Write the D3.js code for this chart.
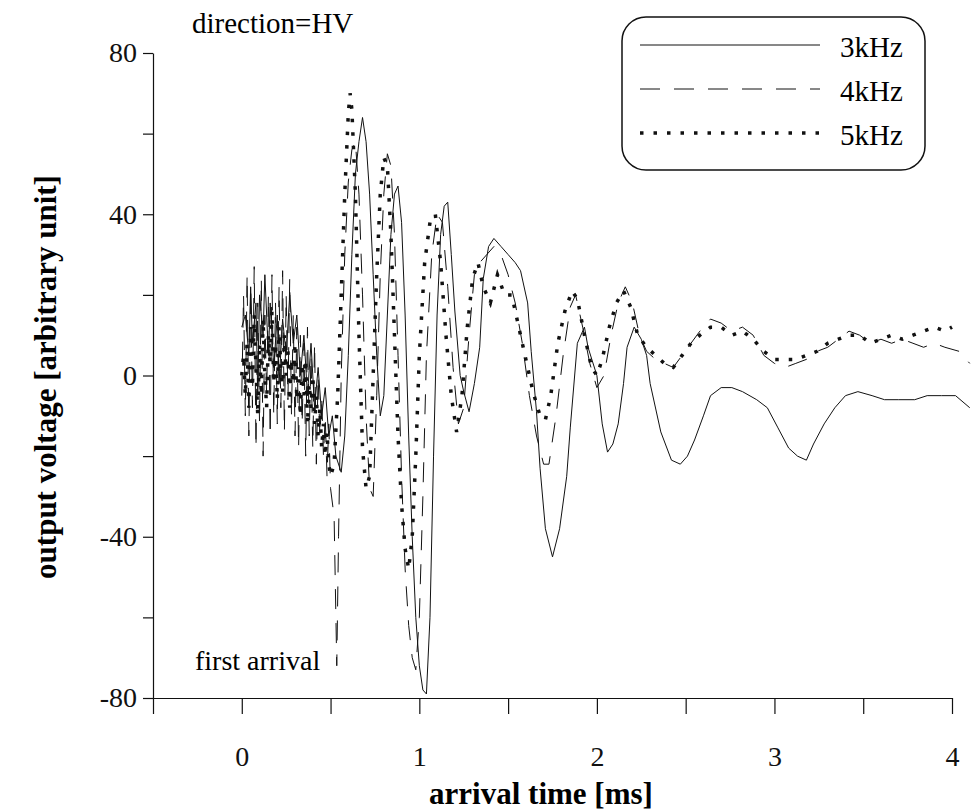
<!DOCTYPE html>
<meta charset="utf-8">
<style>
body { margin: 0; background: #fff; }
.axis path, .axis line { stroke: #111; stroke-width: 1.2; }
</style>
<svg class="chart"></svg>
<script src="https://d3js.org/d3.v7.min.js"></script>
<script>

// series: [arrival time (ms), output voltage]
var names = ["3kHz", "4kHz", "5kHz"];

var s3kHz = [[0.00,12],[0.02,15],[0.04,5],[0.05,22],[0.06,8],[0.08,18],[0.09,-5],[0.10,20],[0.12,10],
  [0.13,25],[0.15,5],[0.16,18],[0.18,2],[0.20,15],[0.21,-2],[0.23,14],[0.25,5],[0.27,20],[0.29,8],
  [0.31,15],[0.33,0],[0.35,10],[0.37,-5],[0.39,8],[0.41,-8],[0.43,2],[0.45,-10],[0.47,-3],[0.49,-15],
  [0.51,-10],[0.53,-20],[0.56,-24],[0.58,-15],[0.60,5],[0.62,30],[0.64,50],[0.66,58],[0.68,64],
  [0.70,58],[0.72,45],[0.74,25],[0.76,5],[0.78,-10],[0.80,-5],[0.82,15],[0.84,35],[0.86,45],[0.88,47],
  [0.90,38],[0.92,15],[0.94,-15],[0.96,-40],[0.98,-60],[1.00,-72],[1.02,-78],[1.04,-79],[1.06,-60],
  [1.08,-20],[1.10,15],[1.12,35],[1.14,42],[1.16,43],[1.18,30],[1.20,16],[1.23,0],[1.25,-4],[1.28,-9],
  [1.31,-2],[1.34,7],[1.36,24],[1.39,32],[1.42,34],[1.46,32],[1.50,30],[1.54,28],[1.57,26],[1.61,18],
  [1.63,6],[1.66,-9],[1.68,-23],[1.71,-38],[1.75,-45],[1.79,-38],[1.83,-25],[1.85,-13],[1.89,8],
  [1.93,12],[1.95,7],[2.00,0],[2.03,-12],[2.06,-19],[2.09,-17],[2.12,-12],[2.15,-2],[2.17,7],[2.21,12],
  [2.25,9],[2.28,5],[2.30,-2],[2.36,-14],[2.42,-21],[2.47,-22],[2.51,-20],[2.55,-16],[2.60,-10],
  [2.64,-5],[2.70,-3],[2.76,-3],[2.82,-4],[2.90,-6],[2.96,-8],[3.02,-13],[3.08,-18],[3.13,-20],
  [3.18,-21],[3.22,-17],[3.28,-12],[3.34,-8],[3.40,-5],[3.47,-4],[3.55,-5],[3.62,-6],[3.70,-6],
  [3.79,-6],[3.86,-5],[3.94,-5],[4.02,-5],[4.10,-8]];

var s4kHz = [[0.00,-5],[0.01,20],[0.02,-10],[0.03,25],[0.04,-15],[0.05,22],[0.06,-8],[0.07,27],[0.08,-18],
  [0.09,18],[0.10,-12],[0.11,24],[0.12,-20],[0.13,15],[0.14,-5],[0.15,20],[0.16,-15],[0.17,25],[0.18,-10],
  [0.19,18],[0.20,-12],[0.21,22],[0.22,-8],[0.23,26],[0.24,-14],[0.25,20],[0.26,-6],[0.27,24],[0.28,-10],
  [0.29,15],[0.30,-15],[0.31,12],[0.32,-18],[0.33,10],[0.34,-12],[0.35,8],[0.36,-20],[0.37,12],[0.38,-15],
  [0.39,5],[0.40,-18],[0.41,8],[0.42,-22],[0.43,0],[0.44,-15],[0.45,-5],[0.46,-20],[0.47,-10],[0.48,-25],
  [0.49,-12],[0.50,-28],[0.52,-35],[0.535,-72],[0.545,-40],[0.56,0],[0.58,30],[0.60,48],[0.62,56],
  [0.64,58],[0.66,45],[0.68,20],[0.70,-10],[0.72,-28],[0.74,-30],[0.76,-5],[0.78,25],[0.80,45],[0.82,55],
  [0.84,52],[0.86,35],[0.88,5],[0.90,-25],[0.92,-48],[0.94,-62],[0.96,-70],[0.98,-73],[1.00,-60],
  [1.02,-30],[1.04,5],[1.07,30],[1.10,40],[1.13,38],[1.16,22],[1.19,2],[1.22,-12],[1.25,-8],[1.28,10],
  [1.31,25],[1.34,28],[1.38,30],[1.42,32],[1.46,30],[1.50,25],[1.54,18],[1.58,8],[1.62,-5],[1.66,-15],
  [1.70,-22],[1.73,-22],[1.77,-10],[1.81,5],[1.85,17],[1.88,20],[1.92,12],[1.96,3],[2.00,-3],[2.04,0],
  [2.08,10],[2.12,18],[2.16,22],[2.20,18],[2.24,10],[2.28,6],[2.33,4],[2.38,3],[2.43,2],[2.48,5],
  [2.53,8],[2.58,11],[2.64,14],[2.70,13],[2.76,11],[2.82,12],[2.88,10],[2.94,5],[3.00,3],[3.06,2],
  [3.12,3],[3.18,4],[3.24,6],[3.30,7],[3.36,9],[3.42,11],[3.48,10],[3.54,8],[3.60,9],[3.66,8],[3.72,9],
  [3.78,8],[3.84,7],[3.90,8],[3.96,7],[4.04,6],[4.10,3]];

var s5kHz = [[0.00,0],[0.01,5],[0.02,-5],[0.03,8],[0.04,-8],[0.05,12],[0.06,-3],[0.07,15],[0.08,2],
  [0.09,-10],[0.10,8],[0.11,-5],[0.12,14],[0.13,0],[0.14,-8],[0.15,10],[0.16,3],[0.17,16],[0.18,-2],
  [0.19,8],[0.20,-6],[0.21,12],[0.22,2],[0.23,-4],[0.24,10],[0.25,0],[0.26,6],[0.27,-8],[0.28,4],
  [0.29,-2],[0.30,8],[0.31,-6],[0.32,2],[0.33,-10],[0.34,3],[0.35,-5],[0.36,4],[0.37,-12],[0.38,-2],
  [0.39,-8],[0.40,0],[0.41,-12],[0.42,-5],[0.43,-15],[0.44,-8],[0.45,-18],[0.46,-12],[0.47,-20],
  [0.48,-14],[0.49,-22],[0.50,-25],[0.52,-22],[0.54,-5],[0.56,20],[0.58,45],[0.60,65],[0.61,70],
  [0.62,66],[0.64,45],[0.66,10],[0.68,-18],[0.70,-28],[0.72,-25],[0.74,0],[0.76,25],[0.78,45],[0.80,54],
  [0.82,52],[0.84,35],[0.86,10],[0.88,-15],[0.90,-32],[0.92,-43],[0.94,-48],[0.96,-40],[0.98,-20],
  [1.00,5],[1.03,28],[1.06,38],[1.09,40],[1.12,28],[1.15,10],[1.18,-5],[1.21,-14],[1.24,-5],[1.27,12],
  [1.30,24],[1.33,28],[1.36,22],[1.40,18],[1.44,25],[1.48,20],[1.52,20],[1.56,12],[1.60,4],[1.64,-4],
  [1.68,-10],[1.71,-11],[1.74,-5],[1.78,8],[1.82,16],[1.86,21],[1.89,19],[1.93,10],[1.97,2],[2.00,0],
  [2.03,4],[2.07,12],[2.11,18],[2.15,21],[2.19,17],[2.23,10],[2.28,7],[2.33,5],[2.38,3],[2.43,2],
  [2.48,5],[2.53,8],[2.58,10],[2.64,12],[2.70,12],[2.76,10],[2.82,11],[2.88,9],[2.94,6],[3.00,4],
  [3.06,4],[3.12,4],[3.18,5],[3.24,6],[3.30,8],[3.36,9],[3.42,10],[3.48,10],[3.54,8],[3.60,9],
  [3.66,10],[3.72,9],[3.78,10],[3.84,11],[3.90,12],[3.96,11],[4.00,12]];

var xTicks = [-0.5, 0, 0.5, 1, 1.5, 2, 2.5, 3, 3.5, 4];
var yTicks = [-80, -60, -40, -20, 0, 20, 40, 60, 80];

var width = 972,
    height = 812,
    font = "Liberation Serif";

var x = d3.scaleLinear().domain([-0.5, 4]).range([153, 952]);
var y = d3.scaleLinear().domain([-80, 80]).range([698, 53]);

var svg = d3.select(".chart")
    .attr("width", width)
    .attr("height", height);

var styles = [
  {dash: null, w: 1},
  {dash: "20,14", w: 1},
  {dash: "3.5,10", w: 3.5}
];

// axes
svg.append("g")
    .attr("class", "axis")
    .attr("transform", "translate(153,0)")
    .call(d3.axisLeft(y).tickValues(yTicks).tickSize(10).tickSizeOuter(0).tickPadding(6)
      .tickFormat(function(d) { return d % 40 === 0 ? String(d) : ""; }))
    .selectAll("text")
    .attr("font-size", 28)
    .attr("font-family", font)
    .attr("fill", "#111");

svg.append("g")
    .attr("class", "axis")
    .attr("transform", "translate(0,698)")
    .call(d3.axisBottom(x).tickValues(xTicks).tickSize(16).tickSizeOuter(0).tickPadding(32)
      .tickFormat(function(d) { return Number.isInteger(d) ? String(d) : ""; }))
    .selectAll("text")
    .attr("font-size", 28)
    .attr("font-family", font)
    .attr("fill", "#111");

// traces
var line = d3.line()
    .x(function(d) { return x(d[0]); })
    .y(function(d) { return y(d[1]); });

[s3kHz, s4kHz, s5kHz].forEach(function(s, i) {
  svg.append("path")
      .attr("d", line(s))
      .attr("fill", "none")
      .attr("stroke", "#111")
      .attr("stroke-width", styles[i].w)
      .attr("stroke-dasharray", styles[i].dash);
});

// labels
svg.append("text")
    .attr("x", 541).attr("y", 804)
    .attr("text-anchor", "middle")
    .attr("font-family", font)
    .attr("font-size", 31).attr("font-weight", "bold")
    .text("arrival time [ms]");

svg.append("text")
    .attr("transform", "translate(56,377) rotate(-90)")
    .attr("text-anchor", "middle")
    .attr("font-family", font)
    .attr("font-size", 31).attr("font-weight", "bold")
    .text("output voltage [arbitrary unit]");

svg.append("text")
    .attr("x", 192).attr("y", 33)
    .attr("font-family", font)
    .attr("font-size", 29)
    .text("direction=HV");

svg.append("text")
    .attr("x", 195).attr("y", 670)
    .attr("font-family", font)
    .attr("font-size", 28)
    .text("first arrival");

// legend
var legend = svg.append("g");
legend.append("rect")
    .attr("x", 622).attr("y", 17)
    .attr("width", 303).attr("height", 153)
    .attr("rx", 24)
    .attr("fill", "#fff")
    .attr("stroke", "#111")
    .attr("stroke-width", 1.5);

names.forEach(function(n, i) {
  var ly = 45 + i * 44;
  legend.append("line")
      .attr("x1", 640).attr("x2", 820)
      .attr("y1", ly).attr("y2", ly)
      .attr("stroke", "#111")
      .attr("stroke-width", styles[i].w)
      .attr("stroke-dasharray", styles[i].dash);
  legend.append("text")
      .attr("x", 840).attr("y", ly + 12)
      .attr("font-family", font)
      .attr("font-size", 29)
      .text(n);
});

</script>
